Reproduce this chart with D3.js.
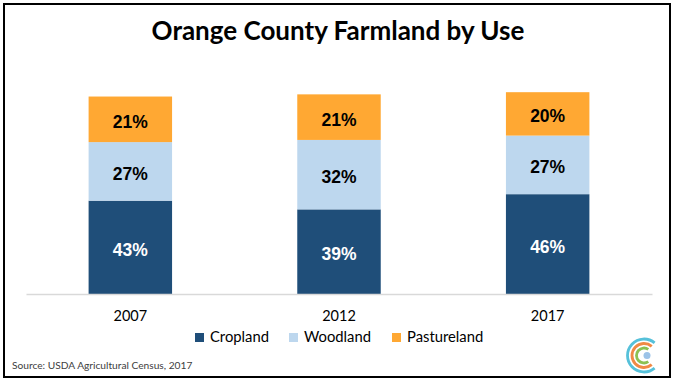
<!DOCTYPE html>
<html>
<head>
<meta charset="utf-8">
<script src="https://cdn.jsdelivr.net/npm/d3@7"></script>
<style>
  html, body { margin: 0; padding: 0; background: #fff; }
  svg { display: block; }
</style>
</head>
<body>
<svg id="chart" width="673" height="380"></svg>
<script>
// ---- data ----
const years = ["2007", "2012", "2017"];
const seriesNames = ["Cropland", "Woodland", "Pastureland"];
const cropland = [43, 39, 46];
const woodland = [27, 32, 27];
const pastureland = [21, 21, 20];
const seriesColors = ["#1F4E79", "#BDD7EE", "#FFA833"];
const labelColors = ["#FFFFFF", "#000000", "#000000"];
const titleText = "Orange County Farmland by Use";
const sourceText = "Source: USDA Agricultural Census, 2017";

const rows = years.map((y, i) => ({
  year: y, Cropland: cropland[i], Woodland: woodland[i], Pastureland: pastureland[i]
}));

const svg = d3.select("#chart");
const W = 673, H = 380;

svg.append("rect").attr("width", W).attr("height", H).attr("fill", "#fff");

// frame
svg.append("rect")
  .attr("x", 4).attr("y", 4).attr("width", 666).attr("height", 373)
  .attr("fill", "none").attr("stroke", "#000").attr("stroke-width", 2);

// title
svg.append("text")
  .attr("x", 338).attr("y", 40)
  .attr("text-anchor", "middle")
  .attr("font-family", "Lato, 'Open Sans', sans-serif")
  .attr("font-weight", "bold")
  .attr("font-size", 26)
  .attr("fill", "#000")
  .text(titleText);

const x = d3.scaleBand().domain(years).range([26, 652]).paddingInner(0.6).paddingOuter(0.3);
const y = d3.scaleLinear().domain([0, 100]).range([294, 77]);

const stack = d3.stack().keys(seriesNames);
const stacked = stack(rows);

const g = svg.append("g");
stacked.forEach((layer, si) => {
  const lg = g.append("g");
  lg.selectAll("rect").data(layer).join("rect")
    .attr("x", d => x(d.data.year))
    .attr("y", d => y(d[1]))
    .attr("width", x.bandwidth())
    .attr("height", d => y(d[0]) - y(d[1]))
    .attr("fill", seriesColors[si]);
  lg.selectAll("text").data(layer).join("text")
    .attr("x", d => x(d.data.year) + x.bandwidth() / 2)
    .attr("y", d => (y(d[0]) + y(d[1])) / 2 + 8.5)
    .attr("text-anchor", "middle")
    .attr("font-family", "'Liberation Sans', Arial, sans-serif")
    .attr("font-weight", "bold")
    .attr("font-size", 17.5)
    .attr("fill", labelColors[si])
    .text(d => (d[1] - d[0]) + "%");
});

// x axis
const xAxis = d3.axisBottom(x).tickSize(0).tickPadding(0);
const ax = svg.append("g").attr("transform", "translate(0,294)").call(xAxis);
ax.select(".domain").attr("stroke", "#D9D9D9").attr("stroke-width", 1.5);
ax.selectAll(".tick text")
  .attr("y", 27).attr("dy", null)
  .attr("font-family", "Lato, 'Open Sans', sans-serif")
  .attr("font-size", 14.5)
  .attr("fill", "#000");

// legend
const legendX = [195, 289, 392];
const leg = svg.append("g");
seriesNames.forEach((n, i) => {
  leg.append("rect")
    .attr("x", legendX[i]).attr("y", 333).attr("width", 9).attr("height", 9)
    .attr("fill", seriesColors[i]);
  leg.append("text")
    .attr("x", legendX[i] + 15).attr("y", 342)
    .attr("font-family", "Lato, 'Open Sans', sans-serif")
    .attr("font-size", 14.8)
    .attr("fill", "#000")
    .text(n);
});

// source
svg.append("text")
  .attr("x", 12).attr("y", 369)
  .attr("font-family", "Lato, 'Open Sans', sans-serif")
  .attr("font-size", 10.2)
  .attr("fill", "#404040")
  .text(sourceText);

// logo
const logo = svg.append("g").attr("transform", "translate(644,355.5)");
const arcs = [
  { r: 16.5, color: "#56C1DA", s: 140, e: 400 },
  { r: 12, color: "#F08A45", s: 140, e: 400 },
  { r: 7.5, color: "#8CC152", s: 145, e: 395 }
];
arcs.forEach(a => {
  logo.append("path")
    .attr("d", d3.arc().innerRadius(a.r - 1.4).outerRadius(a.r + 1.4)
      .startAngle(a.s * Math.PI / 180).endAngle(a.e * Math.PI / 180)())
    .attr("fill", a.color);
});
logo.append("circle").attr("cx", 3).attr("cy", 0).attr("r", 3.5).attr("fill", "#9CC3E8");
</script>
</body>
</html>
